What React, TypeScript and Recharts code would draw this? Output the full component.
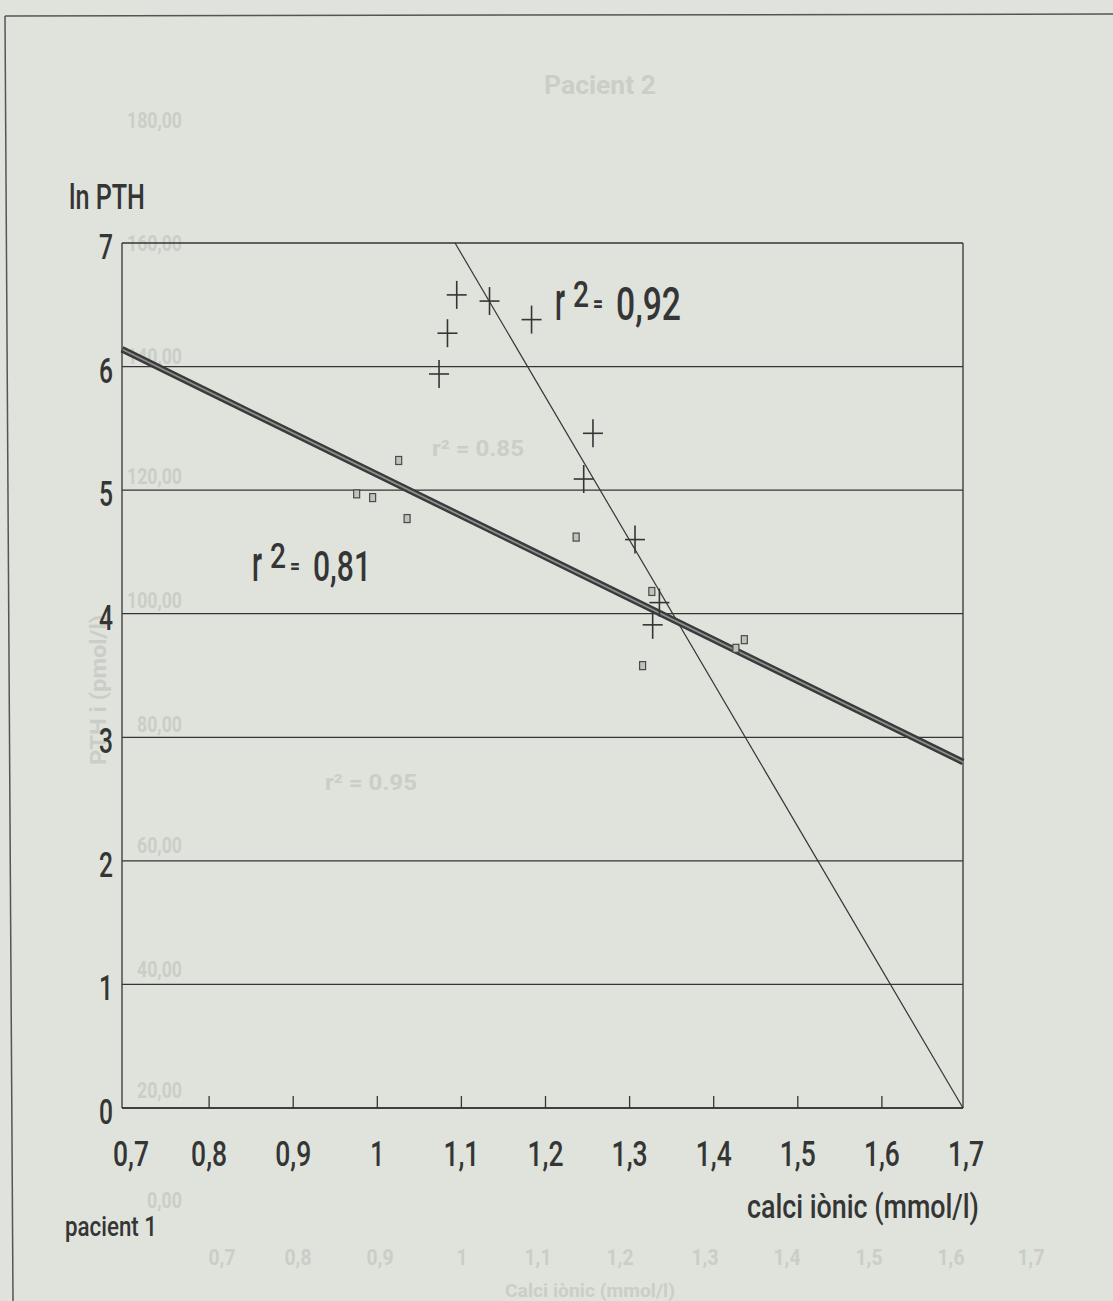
import React from 'react';
import { ComposedChart, Scatter, XAxis, YAxis, CartesianGrid, ReferenceLine } from 'recharts';

// ---- data ----
const xTicks = [0.7, 0.8, 0.9, 1.0, 1.1, 1.2, 1.3, 1.4, 1.5, 1.6, 1.7];
const xTickLabels = ['0,7', '0,8', '0,9', '1', '1,1', '1,2', '1,3', '1,4', '1,5', '1,6', '1,7'];
const yTicks = [0, 1, 2, 3, 4, 5, 6, 7];

// "+" markers
const crossX = [1.077, 1.087, 1.098, 1.137, 1.187, 1.249, 1.26, 1.31, 1.331, 1.339];
const crossY = [5.94, 6.27, 6.58, 6.53, 6.38, 5.09, 5.46, 4.6, 3.91, 4.09];
// square markers
const squareX = [0.979, 0.998, 1.029, 1.039, 1.24, 1.319, 1.33, 1.43, 1.44];
const squareY = [4.97, 4.94, 5.24, 4.77, 4.62, 3.58, 4.18, 3.72, 3.79];

// regression lines (end points)
const fitSquaresX = [0.7, 1.7];
const fitSquaresY = [6.14, 2.8];
const fitCrossesX = [1.096, 1.7];
const fitCrossesY = [7.0, 0.0];

// faint show-through labels of the facing page (Pacient 2)
const ghostYLabels = ['180,00', '160,00', '140,00', '120,00', '100,00', '80,00', '60,00', '40,00', '20,00', '0,00'];
const ghostXLabels = ['0,7', '0,8', '0,9', '1', '1,1', '1,2', '1,3', '1,4', '1,5', '1,6', '1,7'];

const crossData = crossX.map((x, i) => ({ x, y: crossY[i] }));
const squareData = squareX.map((x, i) => ({ x, y: squareY[i] }));
const fitSquares = fitSquaresX.map((x, i) => ({ x, y: fitSquaresY[i] }));
const fitCrosses = fitCrossesX.map((x, i) => ({ x, y: fitCrossesY[i] }));

const INK = '#353535';
const BG = '#dfe3dc';
const GHOST = '#cacec6';
const FONT = "Roboto, 'Liberation Sans', sans-serif";

const labelWidth = (s: string, digit: number, comma: number) => {
  let w = 0;
  for (const ch of s) w += ch === ',' ? comma : digit;
  return w;
};

const CrossShape = (props: any) => {
  const { cx, cy } = props;
  return (
    <g>
      <line x1={cx} x2={cx} y1={cy - 14} y2={cy + 14} stroke={INK} strokeWidth={1.6} />
      <line x1={cx - 10} x2={cx + 10} y1={cy} y2={cy} stroke={INK} strokeWidth={1.6} />
    </g>
  );
};

const SquareShape = (props: any) => {
  const { cx, cy } = props;
  return <rect x={cx - 3} y={cy - 4} width={6} height={8} fill="#bfc3bc" stroke="#4a4a4a" strokeWidth={1.2} />;
};

const XTick = (props: any) => {
  const { x, y, payload } = props;
  const idx = xTicks.indexOf(payload.value);
  const label = idx >= 0 ? xTickLabels[idx] : String(payload.value);
  const showTick = idx > 0 && idx < xTicks.length - 1;
  return (
    <g>
      {showTick && <line x1={x + 3} x2={x + 3} y1={y} y2={y - 12} stroke={INK} strokeWidth={1.3} />}
      <text
        x={x + 3 + (idx === 0 ? 6 : 0)}
        y={y + 58}
        textAnchor="middle"
        fontSize={35}
        fontWeight={500}
        fill={INK}
        fontFamily={FONT}
        textLength={labelWidth(label, 14, 8)}
        lengthAdjust="spacingAndGlyphs"
      >
        {label}
      </text>
    </g>
  );
};

const YTick = (props: any) => {
  const { x, y, payload } = props;
  return (
    <text
      x={x - 9}
      y={y + 16}
      textAnchor="end"
      fontSize={35}
      fontWeight={500}
      fill={INK}
      fontFamily={FONT}
      textLength={14}
      lengthAdjust="spacingAndGlyphs"
    >
      {payload.value}
    </text>
  );
};

const R2 = ({ x, y, value, size, width }: { x: number; y: number; value: string; size: number; width: number }) => (
  <g fill={INK} fontFamily={FONT} fontWeight={500}>
    <text x={x} y={y} fontSize={size * 1.2} textLength={10} lengthAdjust="spacingAndGlyphs">r</text>
    <text x={x + 18} y={y - 13} fontSize={size * 0.82} textLength={16} lengthAdjust="spacingAndGlyphs">2</text>
    <text x={x + 38} y={y - 8} fontSize={size * 0.5} fontWeight="bold" textLength={10} lengthAdjust="spacingAndGlyphs">=</text>
    <text x={x + 61} y={y} fontSize={size} textLength={width} lengthAdjust="spacingAndGlyphs">{value}</text>
  </g>
);

const ghostYPos = [128, 251, 364, 484, 608, 732, 853, 977, 1098, 1208];
const ghostXPos = [222, 298, 380, 462, 538, 620, 705, 787, 869, 951, 1031];

const GhostLayer = () => (
  <svg width={1113} height={1301} style={{ position: 'absolute', left: 0, top: 0 }}>
    <g fill={GHOST} fontFamily={FONT} fontWeight="bold">
      <text x={600} y={94} fontSize={26} textAnchor="middle" textLength={112} lengthAdjust="spacingAndGlyphs">Pacient 2</text>
      {ghostYLabels.map((t, i) => (
        <text key={t} x={182} y={ghostYPos[i]} fontSize={22} textAnchor="end" textLength={labelWidth(t, 10, 5)} lengthAdjust="spacingAndGlyphs">{t}</text>
      ))}
      {ghostXLabels.map((t, i) => (
        <text key={t} x={ghostXPos[i]} y={1265} fontSize={22} textAnchor="middle" textLength={labelWidth(t, 11, 5)} lengthAdjust="spacingAndGlyphs">{t}</text>
      ))}
      <text x={590} y={1297} fontSize={19} textAnchor="middle" textLength={170} lengthAdjust="spacingAndGlyphs">Calci iònic (mmol/l)</text>
      <text x={0} y={0} fontSize={22} textAnchor="middle" transform="translate(106,690) rotate(-90)" textLength={150} lengthAdjust="spacingAndGlyphs">PTH i (pmol/l)</text>
      <text x={432} y={456} fontSize={22} textLength={92} lengthAdjust="spacingAndGlyphs">r² = 0.85</text>
      <text x={325} y={790} fontSize={22} textLength={92} lengthAdjust="spacingAndGlyphs">r² = 0.95</text>
    </g>
  </svg>
);

const ForeLayer = () => (
  <svg width={1113} height={1301} style={{ position: 'absolute', left: 0, top: 0, pointerEvents: 'none' }}>
    <line x1={5} y1={16} x2={1113} y2={14} stroke="#555" strokeWidth={1.5} />
    <line x1={5} y1={16} x2={13} y2={1301} stroke="#555" strokeWidth={1.5} />
    <g fill={INK} fontFamily={FONT} fontWeight={500}>
      <text x={69} y={209} fontSize={35} textLength={76} lengthAdjust="spacingAndGlyphs">ln PTH</text>
      <text x={65} y={1236} fontSize={27} textLength={92} lengthAdjust="spacingAndGlyphs">pacient 1</text>
      <text x={747} y={1218} fontSize={34} textLength={232} lengthAdjust="spacingAndGlyphs">calci iònic (mmol/l)</text>
    </g>
    <R2 x={555} y={320} value="0,92" size={46} width={65} />
    <R2 x={252} y={581} value="0,81" size={43} width={58} />
  </svg>
);

export default function App() {
  return (
    <div style={{ position: 'relative', width: 1113, height: 1301, background: BG, overflow: 'hidden' }}>
      <style>{'body{margin:0;}'}</style>
      <GhostLayer />
      <div style={{ position: 'absolute', left: 0, top: 0 }}>
        <ComposedChart width={1113} height={1301} margin={{ top: 243, right: 150, bottom: 133, left: 62 }}>
          <CartesianGrid horizontal vertical={false} stroke={INK} strokeWidth={1.3} />
          <XAxis
            dataKey="x"
            type="number"
            domain={[0.7, 1.7]}
            ticks={xTicks}
            allowDataOverflow
            height={60}
            tickLine={false}
            tickSize={0}
            tickMargin={0}
            axisLine={{ stroke: INK, strokeWidth: 1.3 }}
            tick={<XTick />}
            interval={0}
          />
          <YAxis
            dataKey="y"
            type="number"
            domain={[0, 7]}
            ticks={yTicks}
            allowDataOverflow
            width={60}
            tickLine={false}
            tickSize={0}
            tickMargin={0}
            axisLine={{ stroke: INK, strokeWidth: 1.3 }}
            tick={<YTick />}
            interval={0}
          />
          <ReferenceLine x={1.7} stroke={INK} strokeWidth={1.3} />
          <ReferenceLine segment={fitCrosses} stroke={INK} strokeWidth={1.2} ifOverflow="visible" />
          <ReferenceLine segment={fitSquares} stroke="#3a3a3a" strokeWidth={6.5} ifOverflow="visible" />
          <ReferenceLine segment={fitSquares} stroke="#8e8e8e" strokeWidth={1.8} ifOverflow="visible" />
          <Scatter data={squareData} shape={<SquareShape />} isAnimationActive={false} />
          <Scatter data={crossData} shape={<CrossShape />} isAnimationActive={false} />
        </ComposedChart>
      </div>
      <ForeLayer />
    </div>
  );
}
